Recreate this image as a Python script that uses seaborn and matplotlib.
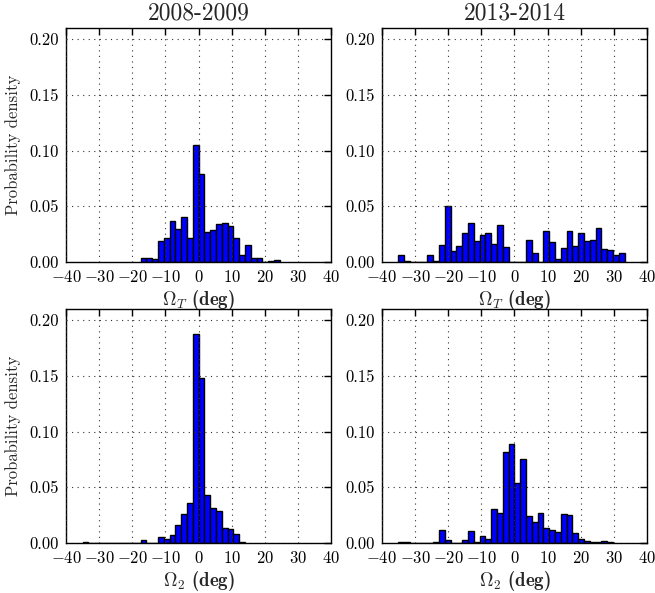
import numpy as np
import pandas as pd
import seaborn as sns
import matplotlib
matplotlib.use("Agg")
import matplotlib.pyplot as plt
from matplotlib.ticker import FormatStrFormatter

# ---------------- data (probability densities) ----------------
BIN_WIDTH = 1.75  # degrees; all histograms share a grid of edges k * BIN_WIDTH

titles = ["2008-2009", "2013-2014"]
xlabels_top = r"$\Omega_T$ (deg)"
xlabels_bottom = r"$\Omega_2$ (deg)"

# top-left: Omega_T, 2008-2009, first bin index -10
omegaT_0809_start = -10
omegaT_0809 = [0.0039, 0.0039, 0.0024, 0.0186, 0.0219, 0.0371, 0.0296, 0.0404,
               0.0213, 0.1051, 0.0793, 0.0266, 0.0287, 0.0341, 0.0347, 0.0320,
               0.0216, 0.0063, 0.0153, 0.0033, 0.0033, 0.0, 0.0012, 0.0021]

# top-right: Omega_T, 2013-2014, first bin index -20
omegaT_1314_start = -20
omegaT_1314 = [0.0060, 0.0012, 0.0, 0.0, 0.0, 0.0065, 0.0012, 0.0149, 0.0500,
               0.0095, 0.0140, 0.0256, 0.0354, 0.0185, 0.0244, 0.0259, 0.0158,
               0.0336, 0.0131, 0.0, 0.0, 0.0, 0.0193, 0.0080, 0.0, 0.0277,
               0.0179, 0.0030, 0.0125, 0.0277, 0.0140, 0.0262, 0.0185, 0.0193,
               0.0307, 0.0113, 0.0110, 0.0063, 0.0077]

# bottom-left: Omega_2, 2008-2009, first bin index -20
omega2_0809_start = -20
omega2_0809 = [0.0006, 0.0, 0.0, 0.0, 0.0, 0.0, 0.0, 0.0, 0.0, 0.0, 0.0027,
               0.0, 0.0, 0.0051, 0.0036, 0.0075, 0.0159, 0.0264, 0.0357, 0.1878,
               0.1479, 0.0429, 0.0315, 0.0291, 0.0138, 0.0126, 0.0078, 0.0006]

# bottom-right: Omega_2, 2013-2014, first bin index -20
omega2_1314_start = -20
omega2_1314 = [0.0006, 0.0006, 0.0, 0.0, 0.0, 0.0, 0.0006, 0.0114, 0.0030, 0.0,
               0.0, 0.0030, 0.0108, 0.0012, 0.0066, 0.0036, 0.0308, 0.0266,
               0.0817, 0.0886, 0.0542, 0.0757, 0.0243, 0.0189, 0.0266, 0.0132,
               0.0114, 0.0096, 0.0257, 0.0254, 0.0087, 0.0039, 0.0018, 0.0009,
               0.0009, 0.0018, 0.0012]

xticks = [-40, -30, -20, -10, 0, 10, 20, 30, 40]
yticks = [0.00, 0.05, 0.10, 0.15, 0.20]

# ---------------- style ----------------
sns.set_style("white")
plt.rcParams.update({
    "font.family": ["cmr10", "DejaVu Serif"],
    "mathtext.fontset": "cm",
    "axes.formatter.use_mathtext": True,
    "axes.unicode_minus": True,
    "xtick.direction": "in",
    "ytick.direction": "in",
    "xtick.top": True,
    "ytick.right": True,
    "xtick.major.size": 5,
    "ytick.major.size": 5,
    "xtick.color": "black",
    "ytick.color": "black",
    "axes.edgecolor": "black",
    "axes.linewidth": 1.0,
})

fig, axes = plt.subplots(2, 2, figsize=(6.55, 5.93), dpi=100)
fig.subplots_adjust(left=0.1008, right=0.9878, bottom=0.0843, top=0.9528,
                    wspace=0.1916, hspace=0.201)

panels = [
    (axes[0, 0], omegaT_0809_start, omegaT_0809, xlabels_top, titles[0], True),
    (axes[0, 1], omegaT_1314_start, omegaT_1314, xlabels_top, titles[1], False),
    (axes[1, 0], omega2_0809_start, omega2_0809, xlabels_bottom, None, True),
    (axes[1, 1], omega2_1314_start, omega2_1314, xlabels_bottom, None, False),
]

for ax, start, dens, xl, title, left in panels:
    n = len(dens)
    edges = [float((k + start) * BIN_WIDTH) for k in range(n + 1)]
    centers = [(edges[k] + edges[k + 1]) / 2 for k in range(n)]
    df = pd.DataFrame({"x": centers, "density": dens})
    sns.histplot(data=df, x="x", weights="density", bins=edges, stat="count",
                 ax=ax, color="#0000ff", edgecolor="black", linewidth=1.0,
                 alpha=1.0)
    ax.set_xlim(-40, 40)
    ax.set_ylim(0, 0.21)
    ax.set_xticks(xticks)
    ax.set_yticks(yticks)
    ax.yaxis.set_major_formatter(FormatStrFormatter("%.2f"))
    ax.grid(True, linestyle=(0, (1, 4)), color="#333333", linewidth=0.8)
    ax.set_axisbelow(False)
    ax.tick_params(labelsize=12, width=1, pad=5)
    ax.set_xlabel(xl, fontsize=13.5, labelpad=2, family=["cmb10", "DejaVu Serif"])
    if left:
        ax.set_ylabel("Probability density", fontsize=12, labelpad=6)
    else:
        ax.set_ylabel("")
    if title:
        ax.set_title(title, fontsize=17, pad=6)
    for sp in ax.spines.values():
        sp.set_visible(True)
        sp.set_color("black")

fig.savefig("out.png", dpi=100)
